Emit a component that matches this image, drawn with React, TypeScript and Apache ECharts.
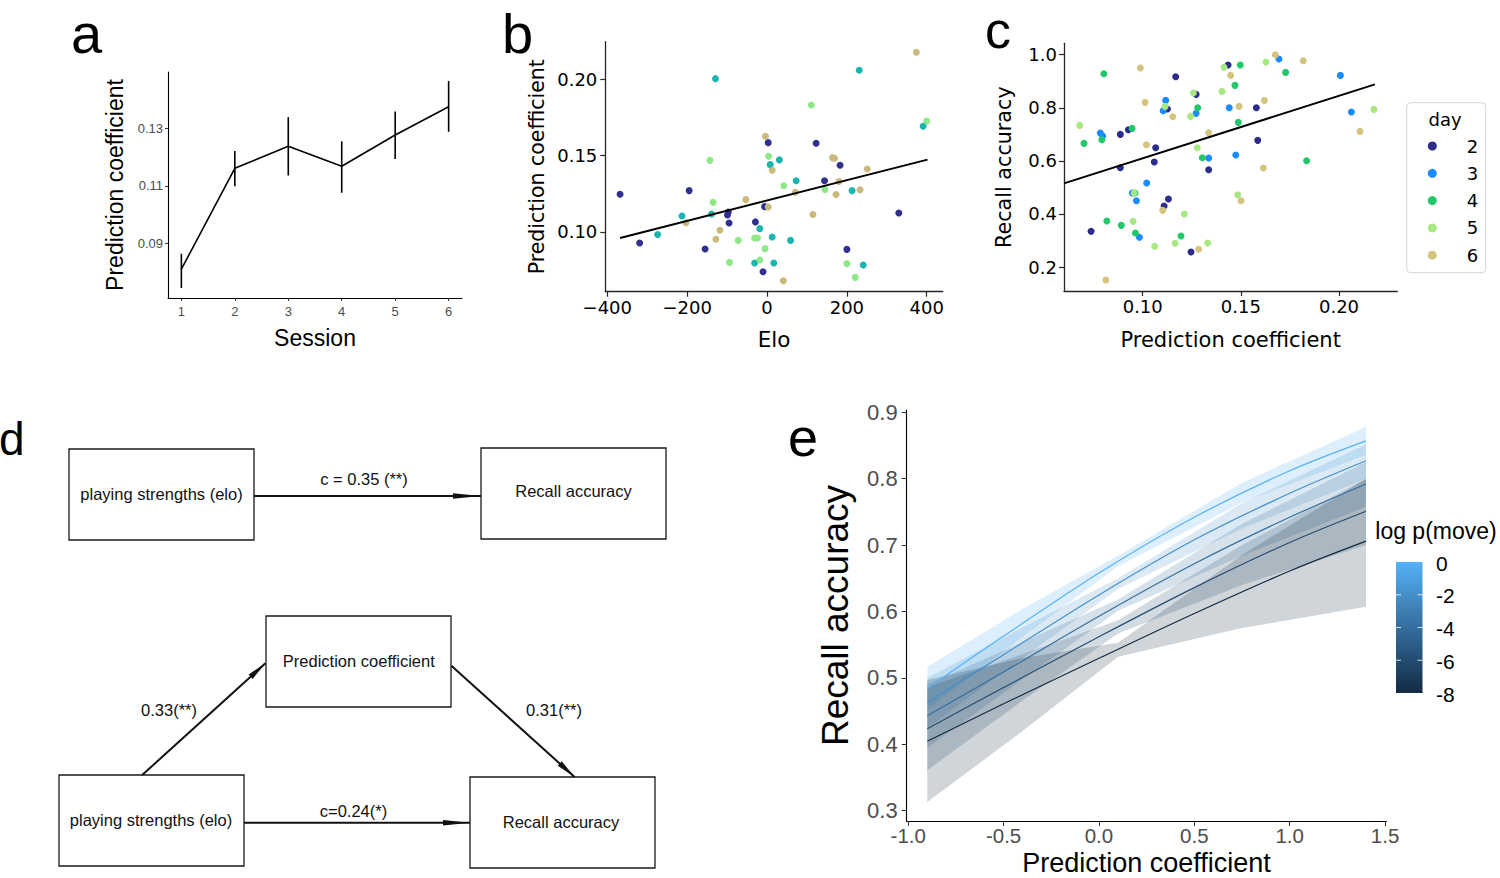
import React, { useEffect, useRef } from 'react';
import * as echarts from 'echarts';

// ---------- Panel a ----------
const SESSIONS = [1, 2, 3, 4, 5, 6];
const SESSION_MEAN = [0.081, 0.1161, 0.1238, 0.1168, 0.1277, 0.1375];
const SESSION_LO = [0.0745, 0.1099, 0.1136, 0.1076, 0.1193, 0.1288];
const SESSION_HI = [0.0864, 0.1221, 0.1339, 0.1255, 0.1359, 0.1465];
const A_Y_TICKS = [0.09, 0.11, 0.13];

// ---------- Panel b (Elo, prediction coefficient) ----------
const B_NAVY = [[-368, 0.1247], [-319, 0.0928], [-195, 0.1271], [-155, 0.0889], [-99, 0.1111], [-97, 0.1131], [-95, 0.1059], [-29, 0.1066], [-10, 0.074], [-6, 0.1166], [3, 0.1585], [123, 0.1581], [144, 0.1336], [183, 0.1437], [200, 0.0886], [330, 0.1124]];
const B_TEAL = [[-129, 0.2004], [-274, 0.0983], [-213, 0.1105], [-139, 0.1118], [-18, 0.1022], [-31, 0.0797], [13, 0.0967], [17, 0.0797], [8, 0.1441], [31, 0.1472], [59, 0.0945], [73, 0.1336], [213, 0.1271], [231, 0.2059], [241, 0.0784], [391, 0.1692]];
const B_LIGHT = [[-143, 0.1469], [-135, 0.1194], [-94, 0.0801], [-72, 0.0945], [-31, 0.0961], [-24, 0.0961], [-18, 0.0817], [-5, 0.0891], [4, 0.1496], [42, 0.1303], [111, 0.1832], [145, 0.1279], [200, 0.0793], [221, 0.0703], [400, 0.1727]];
const B_TAN = [[-203, 0.1061], [-118, 0.1011], [-128, 0.0952], [-53, 0.1212], [-4, 0.1627], [3, 0.1164], [13, 0.1404], [41, 0.0681], [71, 0.126], [115, 0.1114], [164, 0.1487], [169, 0.1483], [173, 0.1245], [180, 0.133], [233, 0.1277], [251, 0.1413], [374, 0.2177]];
const B_FIT_ELO = [-368, 402];
const B_FIT_PRED = [0.0961, 0.1474];
const B_X_TICKS = [-400, -200, 0, 200, 400];
const B_Y_TICKS = [0.1, 0.15, 0.2];

// ---------- Panel c (prediction coefficient, recall accuracy) by day ----------
const C_DAYS = ['2', '3', '4', '5', '6'];
const C_DAY2 = [[0.0737, 0.3344], [0.0886, 0.5743], [0.0886, 0.6998], [0.0927, 0.7174], [0.1066, 0.6496], [0.1059, 0.5956], [0.1109, 0.4298], [0.1131, 0.4562], [0.1126, 0.7953], [0.1168, 0.9171], [0.1246, 0.2565], [0.1272, 0.8505], [0.1336, 0.5667], [0.1435, 0.9611], [0.1579, 0.8003], [0.1586, 0.6772]];
const C_DAY3 = [[0.0784, 0.7049], [0.0796, 0.6936], [0.0947, 0.4788], [0.0968, 0.4499], [0.0983, 0.3118], [0.102, 0.5165], [0.1104, 0.789], [0.1117, 0.8279], [0.1272, 0.779], [0.1336, 0.6107], [0.1441, 0.8003], [0.1474, 0.622], [0.1694, 0.9837], [0.2007, 0.9221], [0.2063, 0.784]];
const C_DAY4 = [[0.0701, 0.6659], [0.0792, 0.6797], [0.0802, 0.9284], [0.0817, 0.3733], [0.0891, 0.357], [0.0946, 0.7224], [0.0961, 0.4788], [0.0963, 0.3281], [0.1195, 0.3168], [0.128, 0.8003], [0.1304, 0.6119], [0.147, 0.8845], [0.1487, 0.7451], [0.1497, 0.9611], [0.1728, 0.9334], [0.1835, 0.6006]];
const C_DAY5 = [[0.0679, 0.7337], [0.0951, 0.3721], [0.0956, 0.4788], [0.1061, 0.2779], [0.1114, 0.8053], [0.1165, 0.2892], [0.1212, 0.3997], [0.1244, 0.7677], [0.1258, 0.8556], [0.1278, 0.6496], [0.1331, 0.2904], [0.1404, 0.8618], [0.1414, 0.9523], [0.1484, 0.4725], [0.1628, 0.9724], [0.2178, 0.794]];
const C_DAY6 = [[0.0812, 0.151], [0.0988, 0.9498], [0.1012, 0.8204], [0.1019, 0.6609], [0.1102, 0.4135], [0.1153, 0.7664], [0.1285, 0.2666], [0.1336, 0.7061], [0.1448, 0.9221], [0.1491, 0.8053], [0.1501, 0.4499], [0.162, 0.8279], [0.1615, 0.573], [0.1676, 1.0], [0.1818, 0.9774], [0.2107, 0.7111]];
const C_FIT_PRED = [0.0599, 0.2183];
const C_FIT_RECALL = [0.5152, 0.8882];
const C_X_TICKS = [0.1, 0.15, 0.2];
const C_Y_TICKS = [0.2, 0.4, 0.6, 0.8, 1.0];

// ---------- Panel e (model fits by log p(move)) ----------
const LOGP_LEVELS = [0, -2, -4, -6, -8];
const E_X = [-0.9, -0.5, 0, 0.5, 1.0, 1.4];
const E_FIT_0 = [0.484, 0.563, 0.658, 0.742, 0.812, 0.857];
const E_FIT_M2 = [0.463, 0.535, 0.625, 0.708, 0.778, 0.827];
const E_FIT_M4 = [0.443, 0.509, 0.593, 0.672, 0.742, 0.792];
const E_FIT_M6 = [0.4235, 0.4855, 0.562, 0.636, 0.704, 0.751];
const E_FIT_M8 = [0.4045, 0.461, 0.5295, 0.597, 0.661, 0.706];
const RIB_X = [-0.9, -0.4, 0.1, 0.75, 1.4];
const RIB_0_LO = [0.452, 0.562, 0.668, 0.764, 0.836];
const RIB_0_HI = [0.517, 0.604, 0.684, 0.794, 0.878];
const RIB_M2_LO = [0.425, 0.53, 0.634, 0.725, 0.8];
const RIB_M2_HI = [0.5, 0.576, 0.65, 0.763, 0.852];
const RIB_M4_LO = [0.395, 0.498, 0.601, 0.684, 0.758];
const RIB_M4_HI = [0.49, 0.554, 0.618, 0.732, 0.825];
const RIB_M6_LO = [0.361, 0.466, 0.567, 0.64, 0.7];
const RIB_M6_HI = [0.486, 0.536, 0.587, 0.7, 0.8];
const RIB_M8_LO = [0.313, 0.42, 0.532, 0.575, 0.607];
const RIB_M8_HI = [0.497, 0.53, 0.553, 0.685, 0.8];
const E_X_TICKS = [-1.0, -0.5, 0, 0.5, 1.0, 1.5];
const E_Y_TICKS = [0.3, 0.4, 0.5, 0.6, 0.7, 0.8, 0.9];
const COLORBAR_TICKS = [0, -2, -4, -6, -8];

// ---------- styles ----------
const ARIAL = 'Liberation Sans, Arial, sans-serif';
const DEJAVU = 'DejaVu Sans, sans-serif';
const LEVEL_COLORS = ['#56B1F7', '#458FCA', '#346E9D', '#244C70', '#132B43'];
const B_COLORS = ['#30318f', '#1db4b0', '#8ee88a', '#cbb97c'];
const C_COLORS = ['#2c2c8c', '#1a8cff', '#20c86a', '#a8e882', '#d4c47f'];

function hexToRgba(hex: string, a: number) {
  const n = parseInt(hex.slice(1), 16);
  return `rgba(${(n >> 16) & 255},${(n >> 8) & 255},${n & 255},${a})`;
}

function arrowHead(fx: number, fy: number, tx: number, ty: number, len: number, hw: number) {
  const dx = tx - fx, dy = ty - fy;
  const L = Math.sqrt(dx * dx + dy * dy);
  const ux = dx / L, uy = dy / L;
  const bx = tx - ux * len, by = ty - uy * len;
  return [[tx, ty], [bx - uy * hw, by + ux * hw], [bx + uy * hw, by - ux * hw]];
}

function ggAxis(extra: any) {
  return {
    type: 'value',
    splitLine: { show: false },
    axisLine: { show: true, onZero: false, lineStyle: { color: '#000', width: 1.1 } },
    ...extra,
  };
}

function mplAxis(extra: any) {
  return {
    type: 'value',
    splitLine: { show: false },
    axisLine: { show: true, onZero: false, lineStyle: { color: '#262626', width: 1.3 } },
    ...extra,
  };
}

function buildOption() {
  const fmt2 = (v: number) => v.toFixed(2);
  const fmt1 = (v: number) => v.toFixed(1);
  const minusFmt = (v: number) => (v < 0 ? '\u2212' + Math.abs(v) : String(v));

  const series: any[] = [];

  // Panel a
  series.push({
    type: 'line', xAxisIndex: 0, yAxisIndex: 0, showSymbol: false, symbol: 'none',
    data: SESSIONS.map((s, i) => [s, SESSION_MEAN[i]]),
    lineStyle: { color: '#000', width: 1.6 },
  });
  series.push({
    type: 'custom', xAxisIndex: 0, yAxisIndex: 0,
    data: SESSIONS.map((s, i) => [s, SESSION_LO[i], SESSION_HI[i]]),
    encode: { x: 0, y: [1, 2] },
    renderItem: (params: any, api: any) => {
      const p1 = api.coord([api.value(0), api.value(1)]);
      const p2 = api.coord([api.value(0), api.value(2)]);
      return { type: 'line', shape: { x1: p1[0], y1: p1[1], x2: p2[0], y2: p2[1] }, style: { stroke: '#000', lineWidth: 1.6 } };
    },
  });

  // Panel b
  [B_NAVY, B_TEAL, B_LIGHT, B_TAN].forEach((d, i) => {
    series.push({ type: 'scatter', name: 'b' + i, xAxisIndex: 1, yAxisIndex: 1, data: d, symbolSize: 7, itemStyle: { color: B_COLORS[i], opacity: 1 } });
  });
  series.push({
    type: 'line', xAxisIndex: 1, yAxisIndex: 1, symbol: 'none',
    data: B_FIT_ELO.map((x, i) => [x, B_FIT_PRED[i]]),
    lineStyle: { color: '#000', width: 2 }, z: 5,
  });

  // Panel c
  [C_DAY2, C_DAY3, C_DAY4, C_DAY5, C_DAY6].forEach((d, i) => {
    series.push({ type: 'scatter', name: C_DAYS[i], xAxisIndex: 2, yAxisIndex: 2, data: d, symbolSize: 7, itemStyle: { color: C_COLORS[i], opacity: 1 } });
  });
  series.push({
    type: 'line', xAxisIndex: 2, yAxisIndex: 2, symbol: 'none',
    data: C_FIT_PRED.map((x, i) => [x, C_FIT_RECALL[i]]),
    lineStyle: { color: '#000', width: 2 }, z: 5,
  });

  // Panel e ribbons (confidence bands), drawn as polygons through the axis scales
  const ribs = [
    [RIB_0_LO, RIB_0_HI], [RIB_M2_LO, RIB_M2_HI], [RIB_M4_LO, RIB_M4_HI], [RIB_M6_LO, RIB_M6_HI], [RIB_M8_LO, RIB_M8_HI],
  ];
  ribs.forEach(([lo, hi], i) => {
    const fill = hexToRgba(LEVEL_COLORS[i], 0.2);
    series.push({
      type: 'custom', xAxisIndex: 3, yAxisIndex: 3, silent: true,
      data: RIB_X.map((x, k) => [x, lo[k], hi[k]]),
      encode: { x: 0, y: [1, 2] },
      renderItem: (params: any, api: any) => {
        if (params.dataIndex !== 0) return null;
        const top = RIB_X.map((x, k) => api.coord([x, hi[k]]));
        const bot = RIB_X.map((x, k) => api.coord([x, lo[k]])).reverse();
        return { type: 'polygon', shape: { points: top.concat(bot) }, style: { fill } };
      },
    });
  });
  const fits = [E_FIT_0, E_FIT_M2, E_FIT_M4, E_FIT_M6, E_FIT_M8];
  fits.forEach((f, i) => {
    series.push({
      type: 'line', name: 'logp ' + LOGP_LEVELS[i], xAxisIndex: 3, yAxisIndex: 3, symbol: 'none', smooth: 0.3,
      data: E_X.map((x, k) => [x, f[k]]), lineStyle: { color: LEVEL_COLORS[i], width: 1.2 }, z: 4,
    });
  });

  // graphic elements
  const g: any[] = [];
  const label = (t: string, x: number, y: number, fs: number) => ({
    type: 'text', x, y, style: { text: t, font: `${fs}px ${ARIAL}`, fill: '#000', verticalAlign: 'top', align: 'left' }, silent: true,
  });
  g.push(label('a', 71, 5, 56));
  g.push(label('b', 502, 5, 56));
  g.push(label('c', 985, 4, 52));
  g.push(label('d', -1, 416, 46));
  g.push(label('e', 788, 410, 54));

  // legend frame for c
  g.push({ type: 'rect', shape: { x: 1406.7, y: 102.7, width: 79, height: 170, r: 4 }, style: { fill: '#fff', stroke: '#d6d6d6', lineWidth: 1 }, z: -1, silent: true });
  g.push({ type: 'text', x: 1445, y: 119, style: { text: 'day', font: `18px ${DEJAVU}`, fill: '#000', align: 'center', verticalAlign: 'middle' }, silent: true });

  // colorbar for e
  const cbX = 1396, cbY = 562, cbW = 26.5, cbH = 131;
  g.push({ type: 'text', x: 1436, y: 531, style: { text: 'log p(move)', font: `23px ${ARIAL}`, fill: '#000', align: 'center', verticalAlign: 'middle' }, silent: true });
  g.push({
    type: 'rect', shape: { x: cbX, y: cbY, width: cbW, height: cbH },
    style: { fill: new echarts.graphic.LinearGradient(0, 0, 0, 1, [{ offset: 0, color: LEVEL_COLORS[0] }, { offset: 1, color: LEVEL_COLORS[4] }]) }, silent: true,
  });
  COLORBAR_TICKS.forEach((v) => {
    const y = cbY + (-v / 8) * cbH;
    if (v !== 0 && v !== -8) {
      g.push({ type: 'line', shape: { x1: cbX, y1: y, x2: cbX + 5, y2: y }, style: { stroke: 'rgba(255,255,255,0.8)', lineWidth: 1 }, silent: true });
      g.push({ type: 'line', shape: { x1: cbX + cbW - 5, y1: y, x2: cbX + cbW, y2: y }, style: { stroke: 'rgba(255,255,255,0.8)', lineWidth: 1 }, silent: true });
    }
    g.push({ type: 'text', x: 1436, y: y + 1, style: { text: String(v), font: `21px ${ARIAL}`, fill: '#000', align: 'left', verticalAlign: 'middle' }, silent: true });
  });

  // Panel d diagram
  const box = (x: number, y: number, w: number, h: number, t: string, tx: number, ty: number) => {
    g.push({ type: 'rect', shape: { x, y, width: w, height: h }, style: { fill: 'none', stroke: '#1a1a1a', lineWidth: 1.3 }, silent: true });
    g.push({ type: 'text', x: tx, y: ty, style: { text: t, font: `16.5px ${ARIAL}`, fill: '#111', align: 'center', verticalAlign: 'middle' }, silent: true });
  };
  const arrow = (fx: number, fy: number, tx: number, ty: number, len: number, hw: number) => {
    const pts = arrowHead(fx, fy, tx, ty, len, hw);
    g.push({ type: 'line', shape: { x1: fx, y1: fy, x2: tx, y2: ty }, style: { stroke: '#111', lineWidth: 2 }, silent: true });
    g.push({ type: 'polygon', shape: { points: pts }, style: { fill: '#111' }, silent: true });
  };
  const dtext = (t: string, x: number, y: number) => g.push({ type: 'text', x, y, style: { text: t, font: `16.5px ${ARIAL}`, fill: '#111', align: 'center', verticalAlign: 'middle' }, silent: true });

  box(69, 449, 185, 91, 'playing strengths (elo)', 161.5, 494);
  box(481, 448, 185, 91, 'Recall accuracy', 573.5, 491);
  arrow(254, 496, 481, 496, 28, 2.8);
  dtext('c = 0.35 (**)', 364, 479);

  box(266, 616, 185, 91, 'Prediction coefficient', 358.8, 661);
  box(59, 775, 185, 91, 'playing strengths (elo)', 151, 820);
  box(470, 777, 185, 91, 'Recall accuracy', 561, 822);
  arrow(142.2, 775, 265.4, 663.3, 20, 3);
  arrow(451.4, 665.7, 574.6, 777, 20, 3);
  arrow(244, 822.7, 470, 822.7, 27, 2.8);
  dtext('0.33(**)', 169, 709.5);
  dtext('0.31(**)', 554, 709.5);
  dtext('c=0.24(*)', 353.5, 810.5);

  return {
    animation: false,
    backgroundColor: '#fff',
    textStyle: { fontFamily: ARIAL },
    grid: [
      { left: 168, top: 72, width: 294, height: 226, outerBoundsMode: 'none' },
      { left: 605.3, top: 41.7, width: 337.4, height: 250, outerBoundsMode: 'none' },
      { left: 1064, top: 43.3, width: 333.3, height: 247.7, outerBoundsMode: 'none' },
      { left: 906.7, top: 410, width: 479.7, height: 411, outerBoundsMode: 'none' },
    ],
    xAxis: [
      ggAxis({
        gridIndex: 0, min: 0.75, max: 6.25,
        axisTick: { show: true, customValues: SESSIONS, length: 3, lineStyle: { color: '#333' } },
        axisLabel: { customValues: SESSIONS, color: '#4d4d4d', fontSize: 13, margin: 7, fontFamily: ARIAL },
        name: 'Session', nameLocation: 'middle', nameGap: 28, nameTextStyle: { fontSize: 23, color: '#000', fontFamily: ARIAL },
      }),
      mplAxis({
        gridIndex: 1, min: -405, max: 440,
        axisTick: { show: true, customValues: B_X_TICKS, length: 5, lineStyle: { color: '#262626', width: 1.2 } },
        axisLabel: { customValues: B_X_TICKS, formatter: minusFmt, color: '#000', fontSize: 18, margin: 7, fontFamily: DEJAVU },
        name: 'Elo', nameLocation: 'middle', nameGap: 37, nameTextStyle: { fontSize: 21.5, color: '#000', fontFamily: DEJAVU },
      }),
      mplAxis({
        gridIndex: 2, min: 0.0599, max: 0.2297,
        axisTick: { show: true, customValues: C_X_TICKS, length: 5, lineStyle: { color: '#262626', width: 1.2 } },
        axisLabel: { customValues: C_X_TICKS, formatter: fmt2, color: '#000', fontSize: 18, margin: 6, fontFamily: DEJAVU },
        name: 'Prediction coefficient', nameLocation: 'middle', nameGap: 38, nameTextStyle: { fontSize: 21, color: '#000', fontFamily: DEJAVU },
      }),
      ggAxis({
        gridIndex: 3, min: -1.008, max: 1.507,
        axisTick: { show: true, customValues: E_X_TICKS, length: 5, lineStyle: { color: '#333' } },
        axisLabel: { customValues: E_X_TICKS, formatter: fmt1, color: '#4d4d4d', fontSize: 20.5, margin: 4, fontFamily: ARIAL },
        name: 'Prediction coefficient', nameLocation: 'middle', nameGap: 28, nameMoveOverlap: false,
        nameTextStyle: { fontSize: 27, color: '#000', fontFamily: ARIAL },
      }),
    ],
    yAxis: [
      ggAxis({
        gridIndex: 0, min: 0.071, max: 0.1496,
        axisTick: { show: true, customValues: A_Y_TICKS, length: 3, lineStyle: { color: '#333' } },
        axisLabel: { customValues: A_Y_TICKS, formatter: fmt2, color: '#4d4d4d', fontSize: 13, margin: 5, fontFamily: ARIAL },
        name: 'Prediction coefficient', nameLocation: 'middle', nameGap: 41.5, nameTextStyle: { fontSize: 23, color: '#000', fontFamily: ARIAL },
      }),
      mplAxis({
        gridIndex: 1, min: 0.0609, max: 0.2246,
        axisTick: { show: true, customValues: B_Y_TICKS, length: 5, lineStyle: { color: '#262626', width: 1.2 } },
        axisLabel: { customValues: B_Y_TICKS, formatter: fmt2, color: '#000', fontSize: 18, margin: 8, fontFamily: DEJAVU },
        name: 'Prediction coefficient', nameLocation: 'middle', nameGap: 58, nameTextStyle: { fontSize: 20.5, color: '#000', fontFamily: DEJAVU },
      }),
      mplAxis({
        gridIndex: 2, min: 0.1096, max: 1.043,
        axisTick: { show: true, customValues: C_Y_TICKS, length: 5, lineStyle: { color: '#262626', width: 1.2 } },
        axisLabel: { customValues: C_Y_TICKS, formatter: fmt1, color: '#000', fontSize: 18, margin: 7, fontFamily: DEJAVU },
        name: 'Recall accuracy', nameLocation: 'middle', nameGap: 49.5, nameTextStyle: { fontSize: 20.7, color: '#000', fontFamily: DEJAVU },
      }),
      ggAxis({
        gridIndex: 3, min: 0.2845, max: 0.9035,
        axisTick: { show: true, customValues: E_Y_TICKS, length: 5, lineStyle: { color: '#333' } },
        axisLabel: { customValues: E_Y_TICKS, formatter: fmt1, color: '#4d4d4d', fontSize: 22, margin: 9, fontFamily: ARIAL },
        name: 'Recall accuracy', nameLocation: 'middle', nameGap: 53, nameTextStyle: { fontSize: 37, color: '#000', fontFamily: ARIAL },
      }),
    ],
    legend: {
      data: C_DAYS, orient: 'vertical', left: 1427.8, top: 137, itemWidth: 9, itemHeight: 9, itemGap: 9.3, padding: 0,
      icon: 'circle', selectedMode: false,
      textStyle: { fontFamily: DEJAVU, fontSize: 18, lineHeight: 18, color: '#000', padding: [0, 0, 0, 25] },
    },
    series,
    graphic: g,
  };
}

export default function App() {
  const ref = useRef<HTMLDivElement>(null);
  useEffect(() => {
    if (!ref.current) return;
    const chart = echarts.init(ref.current, null, { renderer: 'svg' });
    chart.setOption(buildOption() as any);
    return () => chart.dispose();
  }, []);
  return <div ref={ref} style={{ position: 'absolute', left: 0, top: 0, width: 1500, height: 878 }} />;
}
